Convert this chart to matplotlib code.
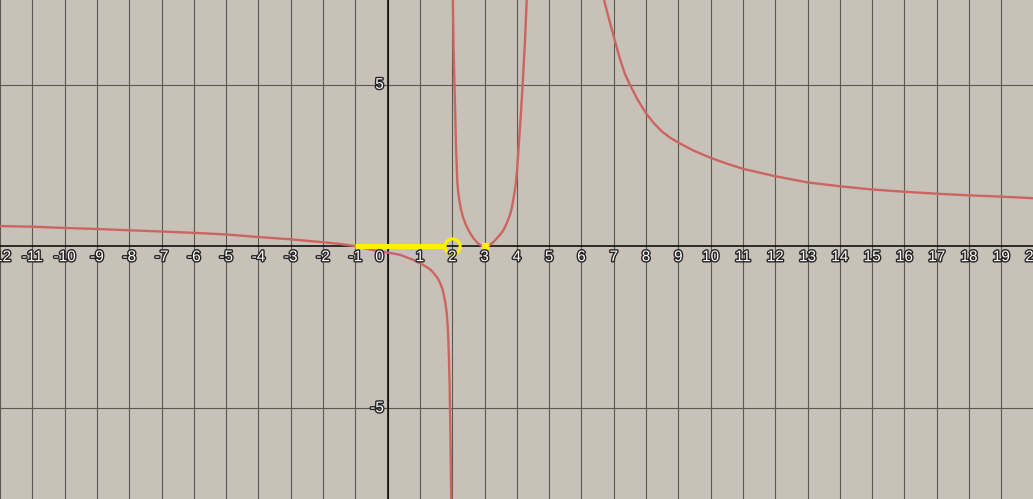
import matplotlib
matplotlib.use("Agg")
import matplotlib.pyplot as plt
import matplotlib.patheffects as pe

# curve, three branches
left_x = [-12, -11, -10, -9, -8, -7, -6, -5, -4, -3, -2, -1.5, -1, -0.6, -0.23, 0, 0.39,
          0.8, 1, 1.15, 1.26, 1.37, 1.47, 1.56, 1.63, 1.70, 1.75, 1.80, 1.83, 1.86, 1.88,
          1.90, 1.92, 1.93, 1.95, 1.97]
left_y = [0.63, 0.61, 0.57, 0.54, 0.50, 0.46, 0.42, 0.37, 0.29, 0.22, 0.13, 0.08, 0.01,
          -0.08, -0.16, -0.19, -0.26, -0.42, -0.52, -0.60, -0.67, -0.76, -0.88, -1.0,
          -1.14, -1.33, -1.55, -1.82, -2.07, -2.45, -2.89, -3.5, -4.3, -4.97, -6.2, -7.9]

mid_x = [2.02, 2.04, 2.07, 2.10, 2.12, 2.16, 2.19, 2.22, 2.27, 2.33, 2.41, 2.50, 2.58,
         2.66, 2.76, 2.86, 2.93, 3.0, 3.08, 3.17, 3.27, 3.38, 3.49, 3.59, 3.68, 3.77,
         3.84, 3.89, 3.93, 3.97, 4.01, 4.05, 4.12, 4.18, 4.25, 4.31]
mid_y = [7.7, 6.2, 5.0, 3.8, 2.98, 1.95, 1.65, 1.44, 1.15, 0.92, 0.70, 0.51, 0.37, 0.25,
         0.13, 0.05, 0.015, 0.0, 0.015, 0.05, 0.13, 0.25, 0.37, 0.51, 0.70, 0.92, 1.17,
         1.44, 1.68, 1.95, 2.40, 2.98, 4.0, 5.0, 6.3, 7.7]

right_x = [6.70, 6.85, 7.0, 7.1, 7.2, 7.35, 7.5, 7.75, 8, 8.25, 8.5, 8.75, 9, 9.5, 10,
           10.5, 11, 12, 13, 14, 15, 16, 17, 18, 19, 20]
right_y = [7.62, 7.05, 6.49, 6.13, 5.77, 5.33, 5.0, 4.52, 4.12, 3.80, 3.55, 3.36, 3.21,
           2.95, 2.74, 2.56, 2.40, 2.17, 1.98, 1.86, 1.76, 1.69, 1.63, 1.58, 1.54, 1.49]

# yellow marks
seg_x = [-1, 1.8]
seg_y = [0, 0]
open_pt = (2, 0)
dot_pt = (3, 0)

x_ticks = [t for t in range(-12, 21) if t != 0]
y_ticks = [5, -5]

fig = plt.figure(figsize=(10.33, 4.99), dpi=100)
ax = fig.add_axes([0, 0, 1, 1])
ax.set_facecolor("#c8c1b8")
ax.set_xlim(-12.0, 19.98)
ax.set_ylim(-7.81, 7.62)
for s in ax.spines.values():
    s.set_visible(False)
ax.set_xticks([])
ax.set_yticks([])

for t in range(-12, 21):
    ax.axvline(t, color="#5a5a55", lw=0.8, zorder=1)
for t in y_ticks:
    ax.axhline(t, color="#5a5a55", lw=0.8, zorder=1)
ax.axhline(0, color="black", lw=1.1, zorder=2)
ax.axvline(0, color="black", lw=1.1, zorder=2)

red = "#cc6560"
for xs, ys in [(left_x, left_y), (mid_x, mid_y), (right_x, right_y)]:
    ax.plot(xs, ys, color=red, lw=1.7, zorder=3, solid_capstyle="round",
            solid_joinstyle="round")

yel = "#fff000"
ax.plot(seg_x, seg_y, color=yel, lw=3.6, zorder=4, solid_capstyle="butt")
ax.plot(*open_pt, marker="o", ms=11, mfc="none", mec=yel, mew=2.2, zorder=5)
ax.plot(*dot_pt, marker="s", ms=4.5, color=yel, zorder=5)

outline = [pe.withStroke(linewidth=2.0, foreground="#222222")]
lab = dict(fontsize=11, color="white", family="Liberation Sans",
           path_effects=outline, zorder=6)
for t in x_ticks:
    ax.text(t, -0.33, str(t), ha="center", va="center", **lab)
ax.text(-0.25, -0.33, "0", ha="center", va="center", **lab)
for t in y_ticks:
    ax.text(-0.12, t, str(t), ha="right", va="center", **lab)

fig.savefig("out.png", dpi=100)
